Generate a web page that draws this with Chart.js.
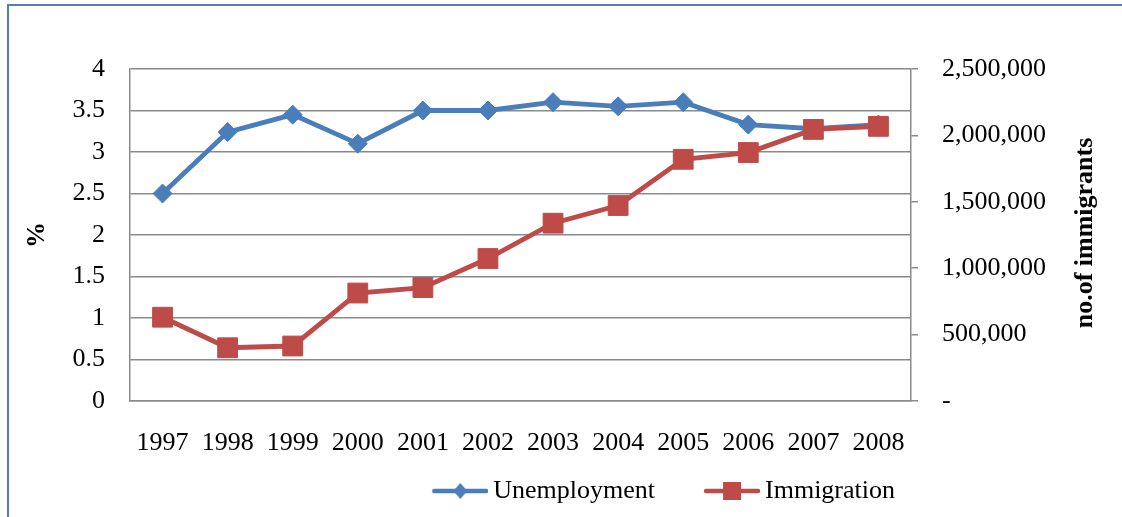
<!DOCTYPE html>
<html>
<head>
<meta charset="utf-8">
<script src="https://cdn.jsdelivr.net/npm/chart.js@4/dist/chart.umd.min.js"></script>
<style>
  html, body { margin: 0; padding: 0; background: #fff; overflow: hidden; }
  #wrap { position: relative; width: 1122px; height: 517px; }
  #frame { position: absolute; left: 7px; top: 4px; width: 2000px; height: 2000px;
           border-top: 2px solid #4f81bd; border-left: 2px solid #4f81bd; pointer-events: none; }
  canvas { position: absolute; left: 0; top: 0; }
</style>
</head>
<body>
<div id="wrap">
  <canvas id="c" width="1122" height="517" style="width:1122px;height:517px"></canvas>
  <div id="frame"></div>
</div>
<script>
const years = ['1997','1998','1999','2000','2001','2002','2003','2004','2005','2006','2007','2008'];
const unemployment = [2.5, 3.24, 3.45, 3.1, 3.5, 3.5, 3.6, 3.55, 3.6, 3.33, 3.28, 3.33];
const immigration = [631000, 401000, 414000, 813000, 854000, 1073000, 1339000, 1472000, 1820000, 1871000, 2045000, 2068000];
const leftTitle = '%';
const rightTitle = 'no.of immigrants';
const seriesNames = ['Unemployment', 'Immigration'];

const FONT = "'Liberation Serif', 'Times New Roman', serif";
const BLUE = '#4a7ebb';
const RED = '#be4b48';
const GRID = '#8a8a8a';

function legendIcon(color, shape) {
  const c = document.createElement('canvas');
  c.width = 97; c.height = 20;
  const g = c.getContext('2d');
  g.strokeStyle = color; g.fillStyle = color; g.lineWidth = 4.5; g.lineCap = 'round';
  g.beginPath(); g.moveTo(43, 10); g.lineTo(95, 10); g.stroke();
  const cx = 69, cy = 10;
  g.beginPath();
  if (shape === 'diamond') {
    g.moveTo(cx, cy - 8); g.lineTo(cx + 7, cy); g.lineTo(cx, cy + 8); g.lineTo(cx - 7, cy); g.closePath();
  } else {
    g.rect(cx - 9, cy - 9, 18, 18);
  }
  g.fill();
  return c;
}
const legendIcons = [legendIcon(BLUE, 'diamond'), legendIcon(RED, 'square')];

const rightTitlePlugin = {
  id: 'rightTitle',
  afterDraw(chart) {
    const {ctx, chartArea} = chart;
    ctx.save();
    ctx.translate(1085, (chartArea.top + chartArea.bottom) / 2 - 2);
    ctx.rotate(-Math.PI / 2);
    ctx.font = "bold 26px " + FONT;
    ctx.fillStyle = '#000';
    ctx.textAlign = 'center';
    ctx.textBaseline = 'middle';
    ctx.fillText(rightTitle, 0, 0);
    ctx.restore();
  }
};

new Chart(document.getElementById('c'), {
  type: 'line',
  data: {
    labels: years,
    datasets: [
      {
        label: seriesNames[0], data: unemployment, yAxisID: 'y', order: 1,
        borderColor: BLUE, backgroundColor: BLUE, borderWidth: 4.8, tension: 0,
        pointStyle: 'rectRot', pointRadius: 9.5, pointBorderWidth: 1,
        pointBackgroundColor: BLUE, pointBorderColor: BLUE
      },
      {
        label: seriesNames[1], data: immigration, yAxisID: 'y1', order: 0,
        borderColor: RED, backgroundColor: RED, borderWidth: 4.8, tension: 0,
        pointStyle: 'rect', pointRadius: 14, pointBorderWidth: 1,
        pointBackgroundColor: RED, pointBorderColor: RED
      }
    ]
  },
  options: {
    responsive: false,
    animation: false,
    layout: { padding: { top: 69, left: 0, right: 0, bottom: 3 } },
    plugins: {
      tooltip: { enabled: false },
      legend: {
        position: 'bottom',
        align: 'end',
        fullSize: false,
        labels: {
          usePointStyle: true,
          pointStyleWidth: 81,
          padding: 16,
          color: '#000',
          font: { family: FONT, size: 26 },
          generateLabels(chart) {
            const items = Chart.defaults.plugins.legend.labels.generateLabels(chart);
            items.sort((a, b) => a.datasetIndex - b.datasetIndex);
            items.forEach(it => { it.pointStyle = legendIcons[it.datasetIndex]; });
            return items;
          }
        }
      }
    },
    scales: {
      x: {
        offset: true,
        grid: { display: true, offset: true, drawOnChartArea: false, drawTicks: true, tickLength: 23, tickColor: 'rgba(0,0,0,0)' },
        border: { display: true, color: GRID, width: 1.5 },
        ticks: { color: '#000', padding: 0, autoSkip: false, maxRotation: 0,
                 font: { family: FONT, size: 26, lineHeight: 1.4615 } }
      },
      y: {
        position: 'left',
        min: 0, max: 4,
        ticks: { stepSize: 0.5, color: '#000', padding: 25, font: { family: FONT, size: 26 },
                 callback: v => String(Math.round(v * 10) / 10) },
        grid: { color: GRID, lineWidth: 1.5, drawTicks: false },
        border: { display: true, color: GRID, width: 1.5 },
        title: { display: true, text: leftTitle, color: '#000', padding: { top: 22, bottom: 0 },
                 font: { family: FONT, size: 26, weight: 'bold' } },
        afterFit(scale) { scale.width = 130; }
      },
      y1: {
        position: 'right',
        min: 0, max: 2500000,
        ticks: { stepSize: 500000, color: '#000', padding: 24, font: { family: FONT, size: 26 },
                 callback: v => v === 0 ? '-' : Number(v).toLocaleString('en-US') },
        grid: { drawOnChartArea: false, drawTicks: true, tickLength: 7, color: GRID, lineWidth: 1.5 },
        border: { display: true, color: GRID, width: 1.5 },
        afterFit(scale) { scale.width = 211; }
      }
    }
  },
  plugins: [rightTitlePlugin]
});
</script>
</body>
</html>
